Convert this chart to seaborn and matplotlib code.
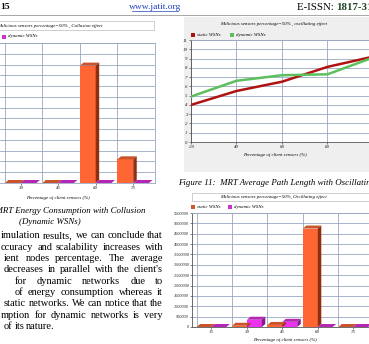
import matplotlib
matplotlib.use('Agg')
import matplotlib.pyplot as plt
from matplotlib.patches import Polygon, Rectangle
import seaborn as sns
import pandas as pd

##################
#Data#############
##################

collusion_cats = ['30', '45', '60', '75']
collusion_static = [0.0, 0.0, 10.9, 2.2]
collusion_dynamic = [0.0, 0.0, 0.0, 0.0]

path_x = ['20', '40', '60', '80', '90']
path_static = [4.0, 5.5, 6.5, 8.1, 9.2]
path_dynamic = [4.9, 6.6, 7.2, 7.3, 9.1]
path_yticks = list(range(0, 12))

osc_cats = ['15', '30', '45', '60', '75']
osc_static = [0, 60000, 100000, 4750000, 0]
osc_dynamic = [0, 350000, 250000, 0, 0]
osc_yticks = list(range(0, 5500001, 500000))

paragraph = ["imulation results, we can conclude that",
             "ccuracy and scalability increases with",
             "ient nodes percentage. The average",
             "decreases in parallel with the client's",
             "for dynamic networks due to",
             "of energy consumption whereas it",
             "static networks. We can notice that the",
             "mption for dynamic networks is very",
             "of its nature."]
paragraph_start = [1, 1, 4, 4, 15, 15, 4, 1, 4]

##################
#Styles###########
##################

W, H = 369, 344
ORANGE, ORANGE_TOP, ORANGE_SIDE = '#FF6633', '#C9532B', '#8E2E12'
MAGENTA, MAGENTA_TOP, MAGENTA_SIDE = '#EE33EE', '#B526B5', '#861A86'
RED, GREEN = '#B01212', '#5CC05C'
GRID = '#9AA7C2'
SERIF = 'Liberation Serif'
TINY = 3.5
BODY = 7.5
CAPTION = 6.4


def rect(x0, y0, x1, y1):
    return [x0 / W, 1 - y1 / H, (x1 - x0) / W, (y1 - y0) / H]


def add_3d(ax, container, top_c, side_c, dx=3.5, dy=3.0):
    inv = ax.transData.inverted()
    for p in container.patches:
        X0, Y0 = ax.transData.transform((p.get_x(), p.get_y()))
        X1, Y1 = ax.transData.transform((p.get_x() + p.get_width(), p.get_y() + p.get_height()))
        top = [(X0, Y1), (X1, Y1), (X1 + dx, Y1 + dy), (X0 + dx, Y1 + dy)]
        side = [(X1, Y0), (X1, Y1), (X1 + dx, Y1 + dy), (X1 + dx, Y0 + dy)]
        ax.add_patch(Polygon(inv.transform(top), closed=True, fc=top_c, ec='none', zorder=3))
        ax.add_patch(Polygon(inv.transform(side), closed=True, fc=side_c, ec='none', zorder=3))


def style_axes(ax, size=TINY):
    ax.set_facecolor('white')
    for s in ax.spines.values():
        s.set_color(GRID)
        s.set_linewidth(0.6)
    ax.grid(True, which='major', axis='y', color=GRID, lw=0.6)
    ax.set_axisbelow(True)
    ax.tick_params(labelsize=size, length=1.5, width=0.4, pad=1, colors='#222222')
    for lab in ax.get_xticklabels() + ax.get_yticklabels():
        lab.set_family(SERIF)
        lab.set_style('italic')


def bar_chart(ax, cats, static, dynamic, ymax, yticks):
    df = pd.DataFrame({'cat': cats * 2,
                       'val': list(static) + list(dynamic),
                       'series': ['static WSNs'] * len(cats) + ['dynamic WSNs'] * len(cats)})
    sns.barplot(data=df, x='cat', y='val', hue='series', palette=[ORANGE, MAGENTA],
                width=0.84, saturation=1, legend=False, ax=ax, edgecolor='none', zorder=2)
    n = len(cats)
    ax.set_xlim(-0.55, n - 0.42 if n == 4 else n - 0.47)
    ax.set_ylim(0, ymax)
    ax.set_yticks(yticks)
    ax.set_xticks([i - 0.42 for i in range(n)], minor=True)
    ax.grid(True, which='minor', axis='x', color=GRID, lw=0.6)
    ax.tick_params(axis='x', which='minor', length=0)
    ax.set_xlabel('')
    ax.set_ylabel('')
    style_axes(ax)
    fig.canvas.draw()
    add_3d(ax, ax.containers[0], ORANGE_TOP, ORANGE_SIDE)
    add_3d(ax, ax.containers[1], MAGENTA_TOP, MAGENTA_SIDE)


##################
#Figure###########
##################

fig = plt.figure(figsize=(W / 100, H / 100), dpi=100)
fig.patch.set_facecolor('white')

bg = fig.add_axes([0, 0, 1, 1])
bg.set_xlim(0, W)
bg.set_ylim(H, 0)
bg.axis('off')
bg.set_zorder(-1)
renderer = fig.canvas.get_renderer()

# header
bg.text(0, 7, '15', fontsize=6.8, family=SERIF, weight='bold', va='center')
bg.text(155, 7, 'www.jatit.org', fontsize=6.8, family=SERIF, color='#1F3FBF', va='center', ha='center')
bg.plot([132, 178], [11, 11], color='#1F3FBF', lw=0.5)
t_issn = bg.text(297, 7, 'E-ISSN: ', fontsize=7.8, family=SERIF, va='center')
w_issn = t_issn.get_window_extent(renderer).width
bg.text(297 + w_issn, 7, '1817-3195', fontsize=7.8, family=SERIF, weight='bold',
        color='#224422', va='center')
bg.plot([0, W], [15, 15], color='#999999', lw=0.6)

# grey panel behind the line chart
bg.add_patch(Rectangle((184, 17), W - 184, 155, fc='#EFEFEF', ec='none'))

# ---- left : collusion bars
bg.add_patch(Rectangle((-5, 21), 159, 9, fc='white', ec='#BBBBBB', lw=0.5))
bg.text(-3, 25.5, 'Malicious sensors percentage=50% , Collusion effect', fontsize=TINY,
        family=SERIF, style='italic', va='center')
bg.add_patch(Rectangle((2, 34.5), 4, 4, fc='#CC33CC', ec='none'))
bg.text(8, 36.5, 'dynamic WSNs', fontsize=TINY, family=SERIF, style='italic', va='center')

ax1 = fig.add_axes(rect(0, 43, 155, 183))
bar_chart(ax1, collusion_cats, collusion_static, collusion_dynamic, 13, list(range(14)))
ax1.tick_params(axis='y', length=0, labelleft=False)
ax1.spines['left'].set_visible(False)
bg.text(58, 198, 'Percentage of client sensors (%)', fontsize=TINY, family=SERIF,
        style='italic', ha='center', va='center')
bg.text(50, 211, 'Figure 10: MRT Energy Consumption with Collusion', fontsize=CAPTION,
        family=SERIF, style='italic', ha='center', va='center')
bg.text(50, 222, '(Dynamic WSNs)', fontsize=CAPTION, family=SERIF, style='italic',
        ha='center', va='center')

# paragraph, justified
for i, (line, x0) in enumerate(zip(paragraph, paragraph_start)):
    y = 236 + i * 11.3
    words = line.split()
    texts = [bg.text(0, y, w, fontsize=BODY, family=SERIF, va='center') for w in words]
    widths = [t.get_window_extent(renderer).width for t in texts]
    if i == len(paragraph) - 1:
        gap = 1.9
    else:
        gap = (163 - x0 - sum(widths)) / (len(words) - 1)
    x = x0
    for t, w in zip(texts, widths):
        t.set_x(x)
        x += w + gap

# ---- right top : path length lines
bg.text(274, 24, 'Malicious sensors percentage=50% , oscillating effect', fontsize=TINY,
        family=SERIF, style='italic', ha='center', va='center')
bg.add_patch(Rectangle((191, 33), 4, 4, fc=RED, ec='none'))
bg.text(197, 35, 'static WSNs', fontsize=TINY, family=SERIF, style='italic', va='center')
bg.add_patch(Rectangle((230, 33), 4, 4, fc=GREEN, ec='none'))
bg.text(236, 35, 'dynamic WSNs', fontsize=TINY, family=SERIF, style='italic', va='center')

ax2 = fig.add_axes(rect(191, 40, 382, 142))
df_path = pd.DataFrame({'x': path_x * 2,
                        'y': path_static + path_dynamic,
                        'series': ['static WSNs'] * 5 + ['dynamic WSNs'] * 5})
sns.lineplot(data=df_path, x='x', y='y', hue='series', palette=[RED, GREEN], sort=False,
             lw=1.8, legend=False, ax=ax2, zorder=3)
ax2.set_xlim(0, 4.2)
ax2.set_ylim(0, 11)
ax2.set_yticks(path_yticks)
ax2.set_xticks(range(len(path_x)))
ax2.set_xticklabels(path_x)
ax2.grid(True, axis='x', color=GRID, lw=0.6)
ax2.set_xlabel('')
ax2.set_ylabel('')
style_axes(ax2)
ax2.spines['left'].set_color('#555555')
ax2.spines['bottom'].set_color('#555555')
bg.text(275, 155, 'Percentage of client sensors (%)', fontsize=TINY, family=SERIF,
        style='italic', ha='center', va='center')
bg.text(178, 183, 'Figure 11:  MRT Average Path Length with Oscillating Effect', fontsize=CAPTION,
        family=SERIF, style='italic', va='center')

# ---- right bottom : oscillating bars
bg.add_patch(Rectangle((192, 193), 180, 8, fc='white', ec='#BBBBBB', lw=0.5))
bg.text(273, 197, 'Malicious sensors percentage=50%, Oscillating effect', fontsize=TINY,
        family=SERIF, style='italic', ha='center', va='center')
bg.add_patch(Rectangle((191, 205), 4, 4, fc='#D05A30', ec='none'))
bg.text(197, 207, 'static WSNs', fontsize=TINY, family=SERIF, style='italic', va='center')
bg.add_patch(Rectangle((228, 205), 4, 4, fc='#CC33CC', ec='none'))
bg.text(234, 207, 'dynamic WSNs', fontsize=TINY, family=SERIF, style='italic', va='center')

ax3 = fig.add_axes(rect(192, 213, 372, 327))
bar_chart(ax3, osc_cats, osc_static, osc_dynamic, 5500000, osc_yticks)
ax3.set_yticklabels([str(v) for v in osc_yticks])
ax3.tick_params(axis='y', labelsize=3.1)
for lab in ax3.get_yticklabels():
    lab.set_family(SERIF)
    lab.set_style('italic')
ax3.spines['left'].set_color('#555555')
ax3.spines['bottom'].set_color('#555555')
bg.text(285, 340, 'Percentage of client sensors (%)', fontsize=TINY, family=SERIF,
        style='italic', ha='center', va='center')

fig.savefig('out.png', dpi=100)
